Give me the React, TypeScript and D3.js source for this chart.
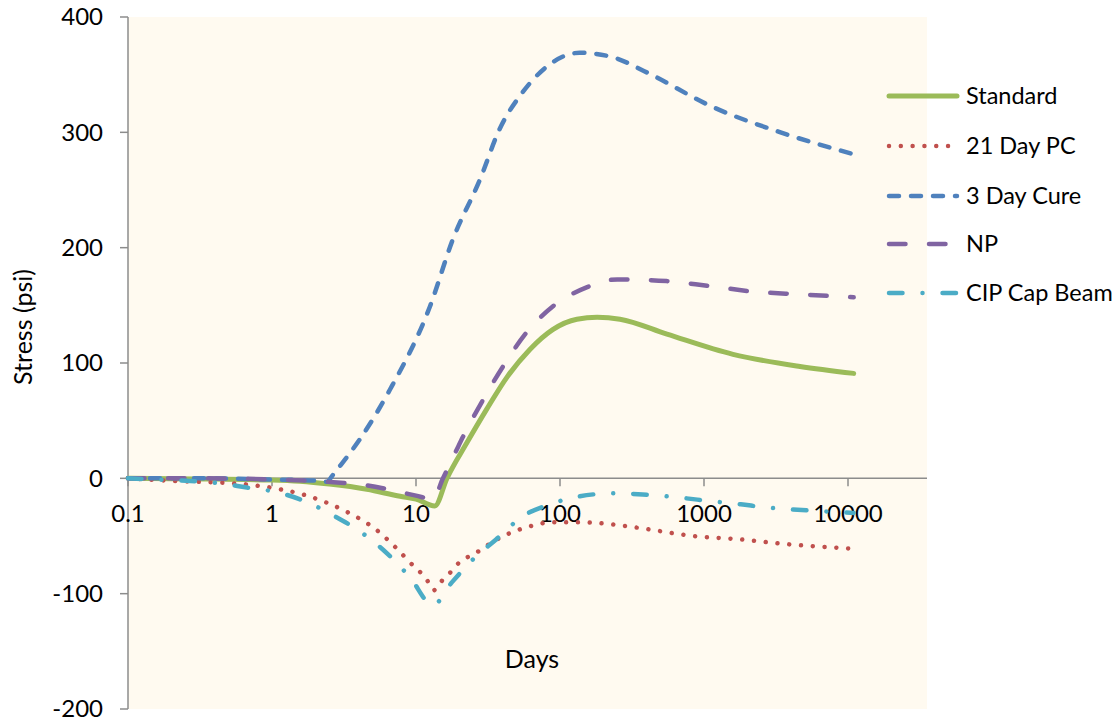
import React from "react";
import * as d3 from "d3";

const yTicks = [-200, -100, 0, 100, 200, 300, 400];
const xTicks = [0.1, 1, 10, 100, 1000, 10000];
const xTickLabels = ["0.1", "1", "10", "100", "1000", "10000"];

const seriesNames = ["Standard", "21 Day PC", "3 Day Cure", "NP", "CIP Cap Beam"];

const standardDays = [0.1, 0.3, 1, 1.56, 2.5, 4.56, 7.76, 10, 13.5, 16.4, 22.6, 31, 43, 62, 89, 131, 181, 261, 553, 1590, 4640, 10950];
const standardValues = [0, -0.5, -1.5, -2.6, -5, -9.5, -15.6, -18, -24, 0, 31, 60, 88, 112, 129, 138, 139.6, 138, 125, 107.5, 97, 91];

const pcDays = [0.1, 0.186, 0.63, 1.14, 1.64, 2.33, 3.3, 5.35, 7.1, 9.1, 11.9, 13.3, 15.1, 17.2, 19.2, 26.6, 36.5, 43, 62, 89, 131, 234, 400, 840, 1800, 3700, 7900, 10950];
const pcValues = [0, -2, -5, -9.5, -14, -20.5, -29, -45, -59, -73, -88, -97, -89, -82, -75, -64, -53, -48.5, -41.6, -38, -38, -40, -44, -50, -53, -57, -60, -61];

const cureDays = [0.1, 0.3, 1, 2, 2.4, 2.65, 2.96, 4.08, 6.6, 12.5, 18, 27.8, 38, 55, 81, 137, 234, 400, 1150, 3400, 10950];
const cureValues = [0, 0, -1, -2, -3, 3, 10.6, 34, 77, 149, 207, 259, 302.6, 334.7, 357, 369, 365, 352, 322, 300, 281];

const npDays = [0.1, 0.3, 1, 2.4, 4.5, 7.8, 10, 13.1, 15.4, 19.2, 21.2, 29.2, 40.2, 58.7, 89, 153, 250, 550, 1050, 2170, 4640, 10950];
const npValues = [0, 0, -1, -3, -6, -12, -15, -18, 0, 25, 36, 68, 97, 126.6, 149, 165.6, 172.5, 171, 167, 162, 159.5, 157];

const cipDays = [0.1, 0.15, 0.41, 0.67, 1.08, 1.78, 2.65, 4.3, 6.4, 9.1, 13.1, 17.8, 25, 36, 55, 85, 137, 234, 375, 650, 1150, 1800, 2600, 4100, 7900, 10950];
const cipValues = [0, -1, -4, -8, -12, -21, -32, -48, -66, -86, -110, -90, -70, -53, -33, -22.5, -15.6, -13, -14, -16.5, -20, -22.5, -25, -27, -29, -30];

const FONT = "Lato, 'Open Sans', sans-serif";

export default function App() {
  const left = 128, right = 927, top = 17, bottom = 709;
  const x = d3.scaleLog().domain([0.1, 10000]).range([left, 848]);
  const y = d3.scaleLinear().domain([-200, 400]).range([bottom, top]);
  const line = d3
    .line<[number, number]>()
    .x((d) => x(d[0]))
    .y((d) => y(d[1]))
    .curve(d3.curveMonotoneX);

  const series = [
    { name: seriesNames[0], days: standardDays, vals: standardValues, color: "#9BBB59", width: 5, dash: "none", cap: "round" },
    { name: seriesNames[1], days: pcDays, vals: pcValues, color: "#C0504D", width: 4.5, dash: "0.01 11.8", cap: "round" },
    { name: seriesNames[2], days: cureDays, vals: cureValues, color: "#4F81BD", width: 4.5, dash: "10 12", cap: "round" },
    { name: seriesNames[3], days: npDays, vals: npValues, color: "#8064A2", width: 4.5, dash: "16.5 23.5", cap: "round" },
    { name: seriesNames[4], days: cipDays, vals: cipValues, color: "#4BACC6", width: 4.5, dash: "13.5 20 0.01 20", cap: "round" },
  ];

  const axisColor = "#8C8C8C";
  const y0 = y(0);
  const legendY = [96, 146, 196, 244, 293];

  return (
    <svg
      width={1120}
      height={721}
      style={{ position: "absolute", left: 0, top: 0, background: "#fff" }}
      fontFamily={FONT}
    >
      <rect x={left} y={top} width={right - left} height={bottom - top} fill="#FFFAF0" />
      {/* y axis */}
      <line x1={left} x2={left} y1={top} y2={bottom} stroke={axisColor} strokeWidth={1.5} />
      {yTicks.map((t) => (
        <g key={t}>
          <line x1={left - 8} x2={left} y1={y(t)} y2={y(t)} stroke={axisColor} strokeWidth={1.5} />
          <text x={103} y={y(t)} dy="0.35em" textAnchor="end" fontSize={24} fill="#000">
            {t}
          </text>
        </g>
      ))}
      {/* x axis at zero */}
      <line x1={left} x2={right} y1={y0} y2={y0} stroke={axisColor} strokeWidth={1.5} />
      {xTicks.map((t, i) => (
        <g key={t}>
          <line x1={x(t)} x2={x(t)} y1={y0} y2={y0 + 8} stroke={axisColor} strokeWidth={1.5} />
          <text x={x(t)} y={522} textAnchor="middle" fontSize={24} fill="#000">
            {xTickLabels[i]}
          </text>
        </g>
      ))}
      {/* series */}
      {series.map((s) => (
        <path
          key={s.name}
          d={line(s.days.map((d, i) => [d, s.vals[i]] as [number, number])) || ""}
          fill="none"
          stroke={s.color}
          strokeWidth={s.width}
          strokeDasharray={s.dash}
          strokeLinecap={s.cap as any}
          strokeLinejoin="round"
        />
      ))}
      {/* axis titles */}
      <text x={532} y={668} textAnchor="middle" fontSize={25} fill="#000">
        Days
      </text>
      <text
        transform={`translate(32, 327) rotate(-90)`}
        textAnchor="middle"
        fontSize={25}
        fill="#000"
      >
        Stress (psi)
      </text>
      {/* legend */}
      {series.map((s, i) => (
        <g key={"lg" + s.name}>
          <line
            x1={889}
            x2={957}
            y1={legendY[i]}
            y2={legendY[i]}
            stroke={s.color}
            strokeWidth={s.width}
            strokeDasharray={s.dash}
            strokeLinecap={s.cap as any}
          />
          <text x={966} y={legendY[i]} dy="0.35em" fontSize={23.5} fill="#000">
            {s.name}
          </text>
        </g>
      ))}
    </svg>
  );
}
